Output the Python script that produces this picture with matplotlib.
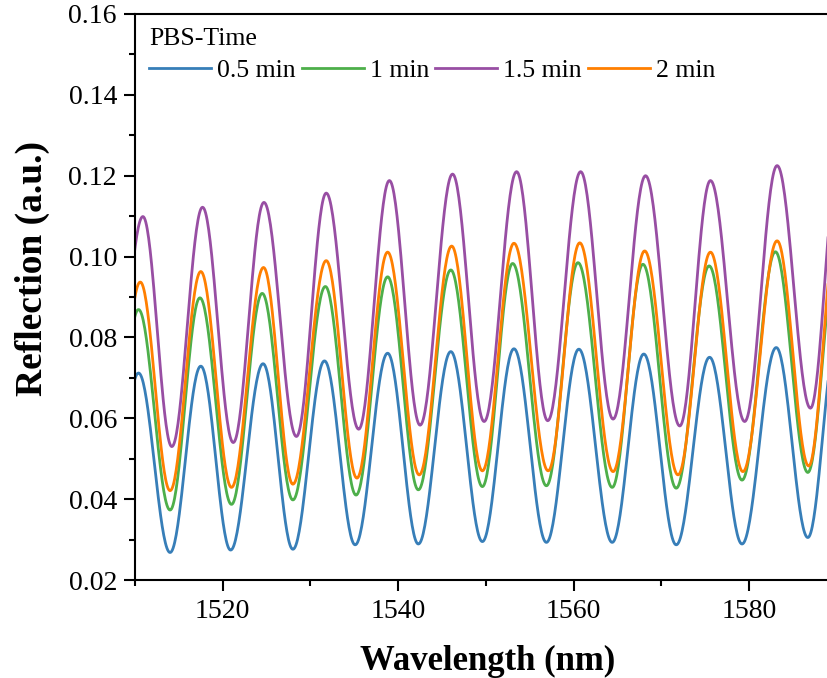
import numpy as np
import matplotlib
matplotlib.use("Agg")
import matplotlib.pyplot as plt
from matplotlib.ticker import MultipleLocator, FormatStrFormatter

plt.rcParams['font.family'] = ['Liberation Serif', 'DejaVu Serif']

# extrema (trough / peak), incl. one just outside each edge
wl_05 = [1507.0, 1510.4, 1514.0, 1517.5, 1520.9, 1524.6, 1528.0, 1531.6, 1535.1, 1538.8, 1542.3, 1546.0,
         1549.6, 1553.2, 1556.9, 1560.6, 1564.4, 1568.0, 1571.7, 1575.5, 1579.2, 1583.1, 1586.7, 1590.1]
r_05 = [0.030, 0.0712, 0.0268, 0.0729, 0.0274, 0.0735, 0.0276, 0.0742, 0.0287, 0.0761, 0.0289, 0.0765,
        0.0295, 0.0772, 0.0293, 0.0771, 0.0293, 0.0759, 0.0287, 0.0751, 0.0289, 0.0775, 0.0305, 0.081]

wl_1 = [1507.0, 1510.4, 1514.0, 1517.4, 1521.0, 1524.5, 1528.0, 1531.7, 1535.2, 1538.8, 1542.3, 1546.0,
        1549.6, 1553.05, 1556.9, 1560.5, 1564.4, 1567.9, 1571.7, 1575.45, 1579.2, 1583.0, 1586.7, 1590.1]
r_1 = [0.040, 0.0869, 0.0373, 0.0898, 0.0387, 0.0909, 0.0398, 0.0926, 0.0410, 0.0950, 0.0423, 0.0967,
       0.0431, 0.0983, 0.0433, 0.0985, 0.0429, 0.0981, 0.0427, 0.0977, 0.0447, 0.1012, 0.0466, 0.103]

wl_15 = [1507.4, 1510.9, 1514.2, 1517.7, 1521.2, 1524.7, 1528.4, 1531.8, 1535.5, 1539.0, 1542.5, 1546.2,
         1549.8, 1553.5, 1557.05, 1560.8, 1564.5, 1568.2, 1572.1, 1575.6, 1579.5, 1583.2, 1587.0, 1590.3]
r_15 = [0.060, 0.1099, 0.0530, 0.1122, 0.0540, 0.1134, 0.0555, 0.1157, 0.0573, 0.1188, 0.0583, 0.1204,
        0.0592, 0.1210, 0.0594, 0.1210, 0.0598, 0.1200, 0.0581, 0.1188, 0.0592, 0.1225, 0.0625, 0.126]

wl_2 = [1507.1, 1510.6, 1514.0, 1517.5, 1521.0, 1524.65, 1528.0, 1531.8, 1535.3, 1538.8, 1542.4, 1546.1,
        1549.6, 1553.2, 1557.1, 1560.7, 1564.5, 1568.1, 1571.9, 1575.6, 1579.3, 1583.2, 1586.8, 1590.1]
r_2 = [0.043, 0.0937, 0.0421, 0.0963, 0.0429, 0.0973, 0.0437, 0.0990, 0.0452, 0.1011, 0.0460, 0.1026,
       0.0470, 0.1033, 0.0470, 0.1034, 0.0468, 0.1014, 0.0460, 0.1011, 0.0468, 0.1039, 0.0482, 0.108]

labels = ['0.5 min', '1 min', '1.5 min', '2 min']
colors = ['#377EB8', '#4DAF4A', '#984EA3', '#FF7F00']


def smooth(xs, ys, n=40):
    # half-cosine segments between consecutive extrema
    px, py = [], []
    for i in range(len(xs) - 1):
        t = np.linspace(0, 1, n, endpoint=False)
        s = (1 - np.cos(np.pi * t)) / 2
        px.append(xs[i] + (xs[i + 1] - xs[i]) * t)
        py.append(ys[i] + (ys[i + 1] - ys[i]) * s)
    px.append([xs[-1]])
    py.append([ys[-1]])
    return np.concatenate(px), np.concatenate(py)


fig = plt.figure(figsize=(8.28, 6.78), dpi=100)
ax = fig.add_axes([135 / 828, 1 - 580 / 678, 1 - 135 / 828, (580 - 14) / 678])

for xs, ys, lab, c in zip([wl_05, wl_1, wl_15, wl_2], [r_05, r_1, r_15, r_2], labels, colors):
    x, y = smooth(xs, ys)
    ax.plot(x, y, color=c, lw=2.0, label=lab)

ax.set_xlim(1510, 1589)
ax.set_ylim(0.02, 0.16)
ax.xaxis.set_major_locator(MultipleLocator(20))
ax.xaxis.set_minor_locator(MultipleLocator(10))
ax.yaxis.set_major_locator(MultipleLocator(0.02))
ax.yaxis.set_minor_locator(MultipleLocator(0.01))
ax.yaxis.set_major_formatter(FormatStrFormatter('%.2f'))
ax.tick_params(which='major', direction='out', length=8, width=1.5, labelsize=20, pad=5)
ax.tick_params(which='minor', direction='out', length=4, width=1.5)
ax.tick_params(axis='x', pad=6)
for sp in ax.spines.values():
    sp.set_linewidth(1.5)
ax.spines['right'].set_visible(False)

ax.set_xlabel('Wavelength (nm)', fontsize=25, fontweight='bold')
ax.set_ylabel('Reflection (a.u.)', fontsize=27, fontweight='bold')
ax.xaxis.set_label_coords(0.509, -0.115)
ax.yaxis.set_label_coords(-0.123, 0.551)

leg = ax.legend(title='PBS-Time', loc='upper left', bbox_to_anchor=(-0.009, 1.011), ncol=4, frameon=False,
                fontsize=18.5, title_fontsize=18.5, handlelength=2.4, handletextpad=0.23,
                columnspacing=0.25, borderpad=0.3, labelspacing=0.35, alignment='left')

fig.savefig('out.png', dpi=100)
